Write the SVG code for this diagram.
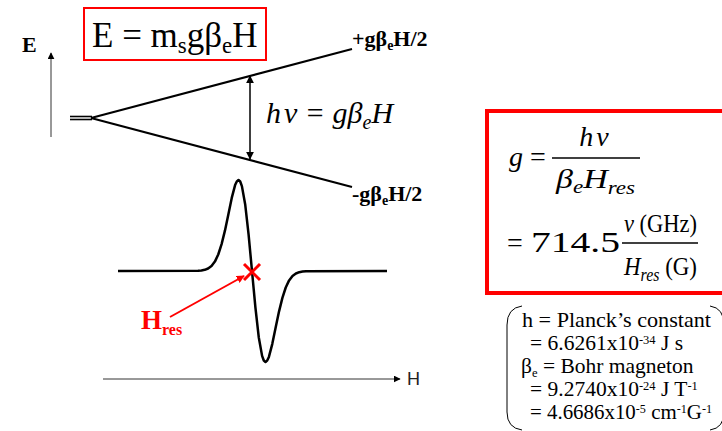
<svg xmlns="http://www.w3.org/2000/svg" width="722" height="431" viewBox="0 0 722 431">
<style>
.serif{font-family:"Liberation Serif","Times New Roman",serif;fill:#000}
.it{font-style:italic}
.bd{font-weight:bold}
.ln{stroke:#000;fill:none}
.sup{font-size:12.5px}
</style>
<defs>
<marker id="ah" viewBox="0 0 10 10" refX="9" refY="5" markerWidth="8" markerHeight="8" markerUnits="userSpaceOnUse" orient="auto-start-reverse"><path d="M0,0 L10,5 L0,10 z" fill="#000"/></marker>
<marker id="ahs" viewBox="0 0 10 10" refX="9" refY="5" markerWidth="7" markerHeight="7" markerUnits="userSpaceOnUse" orient="auto"><path d="M0,0 L10,5 L0,10 z" fill="#000"/></marker>
<marker id="ahr" viewBox="0 0 10 10" refX="9" refY="5" markerWidth="8" markerHeight="8" markerUnits="userSpaceOnUse" orient="auto"><path d="M0,0 L10,5 L0,10 z" fill="#ff0000"/></marker>
</defs>
<rect width="722" height="431" fill="#fff"/>

<g id="connectors">
<line x1="51" y1="137" x2="51" y2="53" stroke="#333" stroke-width="1" marker-end="url(#ahs)"/>
<line x1="103" y1="379" x2="400" y2="379" stroke="#333" stroke-width="1" marker-end="url(#ahs)"/>
<line x1="250" y1="159" x2="250" y2="76" class="ln" stroke-width="1.5" marker-start="url(#ah)" marker-end="url(#ah)"/>
<line x1="170" y1="317" x2="244" y2="276" stroke="#ff0000" stroke-width="2" marker-end="url(#ahr)"/>
</g>

<g id="levels">
<line x1="70" y1="116.5" x2="92" y2="116.5" class="ln" stroke-width="1.6"/>
<line x1="70" y1="119.5" x2="92" y2="119.5" class="ln" stroke-width="1.6"/>
<line x1="91" y1="118" x2="352" y2="49" class="ln" stroke-width="2"/>
<line x1="91" y1="118" x2="352" y2="187" class="ln" stroke-width="2"/>
</g>

<g id="spectrum">
<polyline class="ln" stroke-width="2.5" stroke-linejoin="round" points="118,271 198,270.8 201.4,270.5 204.75,269.85 208.1,268.5 211.5,266 214.9,261.6 218.25,254.5 221.6,244.1 225,230.4 228.4,214.2 231.75,197.9 235.1,185.1 236.8,181.4 238.5,180 240.2,181.5 241.9,186.1 245.25,204.8 248.6,234.6 252,271 255.4,307.4 258.75,337.2 262.1,355.9 263.8,360.5 265.5,362 267.2,360.6 268.9,356.9 272.25,344.1 275.6,327.8 279,311.6 282.4,297.9 285.75,287.5 289.1,280.4 292.5,276 295.9,273.5 299.25,272.15 302.6,271.5 306,271.2 387,271"/>
</g>

<g id="resonance-mark">
<line x1="244" y1="264" x2="260" y2="280" stroke="#ff0000" stroke-width="3"/>
<line x1="244" y1="280" x2="260" y2="264" stroke="#ff0000" stroke-width="3"/>
<text class="serif bd" x="141" y="329" font-size="27" style="fill:#ff0000">H<tspan font-size="16" dy="6">res</tspan></text>
</g>

<g id="axis-labels">
<text class="serif bd" x="22" y="52" font-size="22">E</text>
<text x="407" y="385" font-size="18" font-family="Liberation Sans, Arial, sans-serif" fill="#222">H</text>
</g>

<g id="energy-eq">
<rect x="84" y="8" width="182" height="52" fill="#fff" stroke="#ff0000" stroke-width="2"/>
<text class="serif" x="92" y="47" font-size="35">E = m<tspan font-size="23" dy="6">s</tspan><tspan dy="-6">gβ</tspan><tspan font-size="23" dy="6">e</tspan><tspan dy="-6">H</tspan></text>
</g>

<g id="level-labels">
<text class="serif bd" x="352" y="46" font-size="22">+gβ<tspan font-size="14" dy="4">e</tspan><tspan dy="-4">H/2</tspan></text>
<text class="serif bd" x="352" y="201" font-size="22">-gβ<tspan font-size="14" dy="4">e</tspan><tspan dy="-4">H/2</tspan></text>
</g>

<g id="transition-eq">
<text class="serif it" x="266" y="123" font-size="30">h<tspan dx="3">ν</tspan> = gβ<tspan font-size="20" dy="6">e</tspan><tspan dy="-6">H</tspan></text>
</g>

<g id="g-formula">
<rect x="487" y="111" width="240" height="182" fill="#fff" stroke="#ff0000" stroke-width="4"/>
<text class="serif" x="509" y="166" font-size="28"><tspan class="it">g</tspan> =</text>
<text class="serif it" x="594" y="146" font-size="28" text-anchor="middle">h<tspan dx="3">ν</tspan></text>
<line x1="552" y1="158" x2="640" y2="158" class="ln" stroke-width="1.3"/>
<text class="serif it" x="556" y="188" font-size="28" textLength="79" lengthAdjust="spacingAndGlyphs">β<tspan font-size="19" dy="5">e</tspan><tspan dy="-5">H</tspan><tspan font-size="19" dy="6">res</tspan></text>
<text class="serif" x="507" y="252" font-size="28">=</text>
<text class="serif" x="531" y="252" font-size="29" textLength="89" lengthAdjust="spacingAndGlyphs">714.5</text>
<text class="serif" x="624" y="232" font-size="26" textLength="73" lengthAdjust="spacingAndGlyphs"><tspan class="it">ν</tspan> (GHz)</text>
<line x1="622" y1="243" x2="698" y2="243" class="ln" stroke-width="1.3"/>
<text class="serif" x="624" y="275" font-size="26" textLength="73" lengthAdjust="spacingAndGlyphs"><tspan class="it">H</tspan><tspan class="it" font-size="18" dy="6">res</tspan><tspan dy="-6"> (G)</tspan></text>
</g>

<g id="constants">
<path d="M522,306 Q507,308 507,325 L507,412 Q507,428 522,430" class="ln" stroke="#444" stroke-width="1"/>
<path d="M710,306 Q724,308 724,325 L724,412 Q724,428 710,430" class="ln" stroke="#444" stroke-width="1"/>
<text class="serif" x="522" y="327" font-size="21.5" textLength="189" lengthAdjust="spacingAndGlyphs">h = Planck’s constant</text>
<text class="serif" x="530" y="350" font-size="21.5">= 6.6261x10<tspan class="sup" dy="-6">-34</tspan><tspan dy="6"> J s</tspan></text>
<text class="serif" x="521" y="373" font-size="21.5">β<tspan class="sup" dy="4">e</tspan><tspan dy="-4"> = Bohr magneton</tspan></text>
<text class="serif" x="530" y="396" font-size="21.5">= 9.2740x10<tspan class="sup" dy="-6">-24</tspan><tspan dy="6"> J T</tspan><tspan class="sup" dy="-6">-1</tspan></text>
<text class="serif" x="530" y="419" font-size="21.5" textLength="182" lengthAdjust="spacingAndGlyphs">= 4.6686x10<tspan class="sup" dy="-6">-5</tspan><tspan dy="6"> cm</tspan><tspan class="sup" dy="-6">-1</tspan><tspan dy="6">G</tspan><tspan class="sup" dy="-6">-1</tspan></text>
</g>
</svg>
